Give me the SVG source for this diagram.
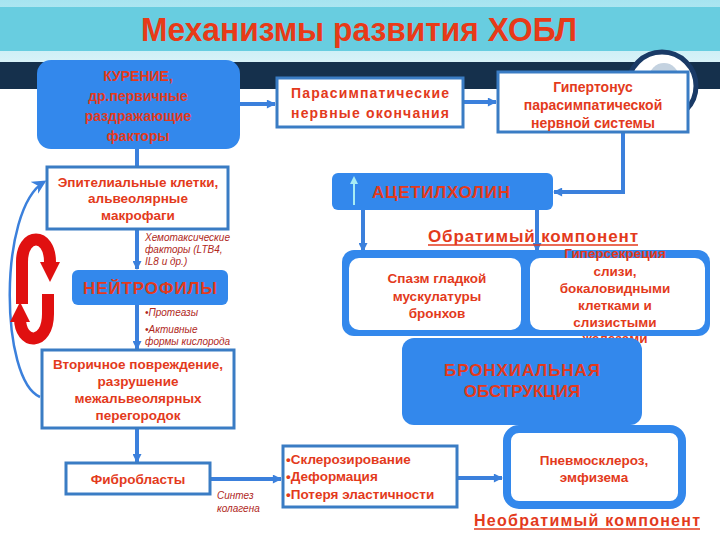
<svg xmlns="http://www.w3.org/2000/svg" width="720" height="540" viewBox="0 0 720 540">
<defs>
<linearGradient id="hdr" x1="0" y1="0" x2="0" y2="1">
<stop offset="0" stop-color="#a6e4f0"/>
<stop offset="1" stop-color="#d8f2f8"/>
</linearGradient>
<marker id="ah" viewBox="0 0 10 10" refX="9" refY="5" markerWidth="10" markerHeight="9" markerUnits="userSpaceOnUse" orient="auto">
<path d="M0,0 L10,5 L0,10 z" fill="#3b80dc"/>
</marker>
<marker id="ahr" viewBox="0 0 10 10" refX="4" refY="5" markerWidth="20" markerHeight="22" markerUnits="userSpaceOnUse" orient="auto">
<path d="M0,0 L10,5 L0,10 z" fill="#e01010"/>
</marker>
<marker id="ahb" viewBox="0 0 10 10" refX="8" refY="5" markerWidth="14" markerHeight="14" markerUnits="userSpaceOnUse" orient="auto">
<path d="M0,0 L10,5 L0,10 L3,5 z" fill="#3b80dc"/>
</marker>
</defs>
<style>
.t{font-family:"Liberation Sans",Arial,sans-serif;fill:#e33a1c;font-weight:bold;text-anchor:middle}
.tl{font-family:"Liberation Sans",Arial,sans-serif;fill:#e33a1c;font-weight:bold}
.it{font-family:"Liberation Sans",Arial,sans-serif;fill:#b0281c;font-style:italic;font-size:10px}
.box{fill:#ffffff;stroke:#3a7cc4;stroke-width:3}
.blue{fill:#3388ec}
.ln{stroke:#3b80dc;stroke-width:4;fill:none}
</style>
<rect x="0" y="0" width="720" height="540" fill="#ffffff"/>
<g id="header">
<rect x="0" y="0" width="720" height="62" fill="url(#hdr)"/>
<rect x="0" y="7" width="720" height="44" fill="#68cde0"/>
<rect x="0" y="62" width="720" height="27" fill="#15304c"/>
<circle cx="662" cy="86" r="34" fill="#ffffff" stroke="#1a3a66" stroke-width="5"/>
<circle cx="664" cy="78" r="15" fill="#c4d2e0"/>
<text x="359" y="41" font-family="Liberation Sans,Arial,sans-serif" font-weight="bold" font-size="33" fill="#e83a18" text-anchor="middle" textLength="436" lengthAdjust="spacingAndGlyphs">Механизмы развития ХОБЛ</text>
</g>
<g id="connectors">
<line class="ln" x1="240" y1="104" x2="275" y2="104" marker-end="url(#ah)"/>
<line class="ln" x1="463" y1="102" x2="496" y2="102" marker-end="url(#ah)"/>
<polyline class="ln" points="623,132 623,192 554,192" marker-end="url(#ah)"/>
<line class="ln" x1="137" y1="149" x2="137" y2="166" marker-start="url(#ah)"/>
<line class="ln" x1="137" y1="229" x2="137" y2="269" marker-end="url(#ah)"/>
<line class="ln" x1="137" y1="305" x2="137" y2="349" marker-end="url(#ah)"/>
<line class="ln" x1="137" y1="428" x2="137" y2="462" marker-end="url(#ah)"/>
<line class="ln" x1="210" y1="479" x2="281" y2="479" marker-end="url(#ah)"/>
<line class="ln" x1="457" y1="478" x2="502" y2="478" marker-end="url(#ah)"/>
<line class="ln" x1="363" y1="210" x2="363" y2="251" marker-end="url(#ah)"/>
<line class="ln" x1="537" y1="210" x2="537" y2="251" marker-end="url(#ah)"/>
<path d="M40,397 C0,380 -2,210 44,182" fill="none" stroke="#3b80dc" stroke-width="2.5" marker-end="url(#ahb)"/>
<path d="M22,304 L22,262 C22,232 50,232 50,262 L50,270" fill="none" stroke="#e01010" stroke-width="12" marker-end="url(#ahr)"/>
<path d="M48,294 L48,314 C48,346 20,346 20,318 L20,314" fill="none" stroke="#e01010" stroke-width="12" marker-end="url(#ahr)"/>
</g>
<g id="smoking">
<rect class="blue" x="37" y="60" width="203" height="89" rx="14"/>
<text class="t" font-size="14" font-weight="normal" x="138" y="81">КУРЕНИЕ,</text>
<text class="t" font-size="14" x="138" y="101">др.первичные</text>
<text class="t" font-size="14" x="138" y="121">раздражающие</text>
<text class="t" font-size="14" x="138" y="141">факторы</text>
</g>
<g id="parasym-endings">
<rect class="box" x="277" y="78" width="186" height="49"/>
<text class="t" font-size="14" x="370" y="98" textLength="158">Парасимпатические</text>
<text class="t" font-size="14" x="370" y="118" textLength="158">нервные окончания</text>
</g>
<g id="hypertonus">
<rect class="box" x="498" y="72" width="190" height="60"/>
<text class="t" font-size="14" x="593" y="92">Гипертонус</text>
<text class="t" font-size="14" x="593" y="110">парасимпатической</text>
<text class="t" font-size="14" x="593" y="128">нервной системы</text>
</g>
<g id="acetylcholine">
<rect class="blue" x="332" y="173" width="221" height="37" rx="6"/>
<line x1="354" y1="205" x2="354" y2="182" stroke="#a8ecf4" stroke-width="2"/>
<path d="M350,184 L354,176 L358,184 z" fill="#a8ecf4"/>
<text class="tl" font-size="17" x="372" y="198" textLength="138">АЦЕТИЛХОЛИН</text>
</g>
<g id="reversible-label">
<text class="t" font-size="17" x="533" y="242" textLength="210">Обратимый компонент</text>
<line x1="428" y1="245" x2="638" y2="245" stroke="#e33a1c" stroke-width="1.5"/>
</g>
<g id="reversible">
<rect class="blue" x="342" y="250" width="368" height="86" rx="12"/>
<rect x="349" y="258" width="172" height="72" rx="10" fill="#ffffff"/>
<rect x="530" y="258" width="175" height="72" rx="10" fill="#ffffff"/>
<text class="t" font-size="13.5" x="437" y="283">Спазм гладкой</text>
<text class="t" font-size="13.5" x="437" y="301">мускулатуры</text>
<text class="t" font-size="13.5" x="437" y="318">бронхов</text>
<text class="t" font-size="13.5" x="615" y="258">Гиперсекреция</text>
<text class="t" font-size="13.5" x="615" y="276">слизи,</text>
<text class="t" font-size="13.5" x="615" y="293">бокаловидными</text>
<text class="t" font-size="13.5" x="615" y="310">клетками и</text>
<text class="t" font-size="13.5" x="615" y="327">слизистыми</text>
<text class="t" font-size="13.5" x="615" y="343">железами</text>
</g>
<g id="obstruction">
<rect class="blue" x="402" y="338" width="240" height="87" rx="12"/>
<text class="t" font-size="17" x="522" y="376" textLength="156">БРОНХИАЛЬНАЯ</text>
<text class="t" font-size="17" x="522" y="397">ОБСТРУКЦИЯ</text>
</g>
<g id="pneumosclerosis">
<rect x="507" y="429" width="175" height="76" rx="12" fill="#ffffff" stroke="#3388ec" stroke-width="8"/>
<text class="t" font-size="13.5" x="594" y="465">Пневмосклероз,</text>
<text class="t" font-size="13.5" x="594" y="482">эмфизема</text>
</g>
<g id="irreversible-label">
<text class="t" font-size="16" x="587" y="526" textLength="226">Необратимый компонент</text>
<line x1="474" y1="529" x2="700" y2="529" stroke="#e33a1c" stroke-width="1.5"/>
</g>
<g id="sclerosis">
<rect class="box" x="283" y="446" width="174" height="61"/>
<text class="tl" font-size="13.5" x="286" y="464">•Склерозирование</text>
<text class="tl" font-size="13.5" x="286" y="481">•Деформация</text>
<text class="tl" font-size="13.5" x="286" y="499">•Потеря эластичности</text>
</g>
<g id="epithelial">
<rect class="box" x="47" y="167" width="181" height="62"/>
<text class="t" font-size="13.5" x="138" y="187">Эпителиальные клетки,</text>
<text class="t" font-size="13.5" x="138" y="203">альвеолярные</text>
<text class="t" font-size="13.5" x="138" y="220">макрофаги</text>
</g>
<g id="chemo-label">
<text class="it" x="145" y="241">Хемотаксические</text>
<text class="it" x="145" y="253">факторы (LTB4,</text>
<text class="it" x="145" y="265">IL8 и др.)</text>
</g>
<g id="neutrophils">
<rect class="blue" x="72" y="270" width="156" height="35" rx="6"/>
<text class="t" font-size="17" x="150" y="294" textLength="134">НЕЙТРОФИЛЫ</text>
</g>
<g id="protease-label">
<text class="it" x="145" y="316">•Протеазы</text>
<text class="it" x="145" y="333">•Активные</text>
<text class="it" x="145" y="345">формы кислорода</text>
</g>
<g id="secondary">
<rect class="box" x="42" y="350" width="192" height="78"/>
<text class="t" font-size="13.5" x="138" y="369">Вторичное повреждение,</text>
<text class="t" font-size="13.5" x="138" y="386">разрушение</text>
<text class="t" font-size="13.5" x="138" y="403">межальвеолярных</text>
<text class="t" font-size="13.5" x="138" y="420">перегородок</text>
</g>
<g id="fibroblasts">
<rect class="box" x="66" y="463" width="144" height="31"/>
<text class="t" font-size="13.5" x="138" y="484">Фибробласты</text>
</g>
<g id="collagen-label">
<text class="it" x="217" y="499">Синтез</text>
<text class="it" x="217" y="512">колагена</text>
</g>
</svg>
